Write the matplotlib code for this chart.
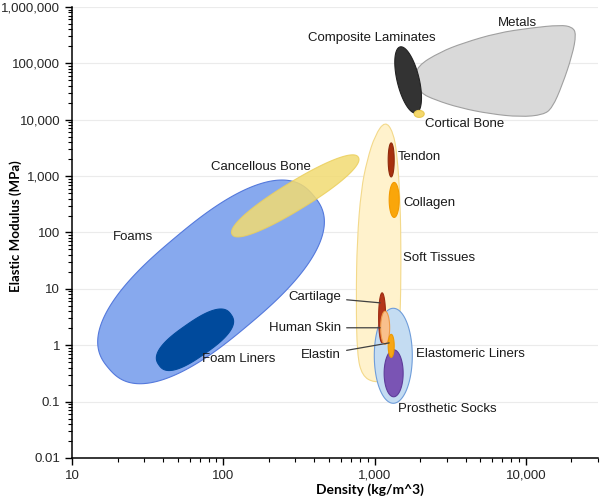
import numpy as np
import matplotlib
matplotlib.use("Agg")
import matplotlib.pyplot as plt
from matplotlib.patches import Polygon, PathPatch
from matplotlib.path import Path
from matplotlib.ticker import FixedLocator, FuncFormatter, NullFormatter

plt.rcParams['font.family'] = ['Liberation Sans', 'DejaVu Sans']

# ---- axis ticks
x_ticks = [10, 100, 1000, 10000]
y_ticks = [0.01, 0.1, 1, 10, 100, 1000, 10000, 100000, 1000000]

# ---- rounded regions: centre (density, modulus), half length / half width (px), tilt (deg), squareness
blob_names = ["Foams", "Foam Liners", "Cancellous Bone", "Composite Laminates", "Cortical Bone",
              "Tendon", "Collagen", "Elastomeric Liners", "Prosthetic Socks",
              "Cartilage", "Human Skin", "Elastin"]
blob_density = [83, 65, 299, 1667, 1972, 1288, 1348, 1330, 1337, 1122, 1175, 1288]
blob_modulus = [13.3, 1.25, 446, 50800, 12700, 1937, 378, 0.65, 0.318, 3.06, 2.04, 0.976]
blob_half_len = [134, 44, 74, 34, 5, 17, 17.5, 47.5, 23.5, 25, 16.5, 11.5]
blob_half_wid = [57, 17, 14, 11, 3.5, 3, 5, 19, 9.5, 3.5, 4.5, 3]
blob_tilt = [40, 35, 31.5, 103.6, 0, 90, 90, 90, 90, 90, 90, 90]
blob_square = [2.5, 2.6, 2.2, 2, 2, 2, 2, 2, 2, 2, 2, 2]

# ---- free-form regions (outline points)
metals_density = [1913, 2716, 3855, 6470, 10700, 16890, 20300, 21540, 20300, 17420,
                  14960, 13040, 9190, 5820, 3680, 2518, 2004, 1854]
metals_modulus = [89900, 159000, 230000, 346000, 424000, 480000, 442000, 332000, 141000, 41400,
                  16200, 12200, 11200, 12700, 16200, 22400, 29900, 50800]
soft_density = [1175, 1327, 1411, 1477, 1499, 1477, 1411, 1230, 994, 828,
                767, 755, 767, 815, 893, 1009]
soft_modulus = [9530, 6080, 2377, 378, 32.6, 2.82, 0.449, 0.244, 0.216, 0.287,
                0.676, 6.38, 74.0, 569, 1937, 5370]

# ---- labels
label_text = ["Metals", "Composite Laminates", "Cortical Bone", "Tendon", "Collagen", "Soft Tissues",
              "Elastomeric Liners", "Prosthetic Socks", "Cancellous Bone", "Foams", "Foam Liners"]
label_density = [8770, 964, 2163, 1432, 1546, 1546, 1884, 1432, 178, 25.3, 72.4]
label_modulus = [520000, 282000, 8440, 2188, 335, 35.5, 0.705, 0.0745, 1455, 83.6, 0.574]
label_align = ["center", "center", "left", "left", "left", "left", "left", "left", "center", "center", "left"]

callout_text = ["Cartilage", "Human Skin", "Elastin"]
callout_density = [601, 601, 601]
callout_modulus = [7.21, 2.04, 0.676]
callout_tip_density = [1089, 1089, 1249]
callout_tip_modulus = [5.65, 2.04, 1.10]

style = {
    "Foams": ("#87A9EE", "#5479DC", 1.0),
    "Foam Liners": ("#004A9C", "#004A9C", 1.0),
    "Cancellous Bone": ("#F2DB72", "#EBCF5C", 0.85),
    "Composite Laminates": ("#333333", "#222222", 1.0),
    "Cortical Bone": ("#F4D86C", "#E8C850", 1.0),
    "Tendon": ("#A8300E", "#8E2A0C", 1.0),
    "Collagen": ("#FAA60A", "#F39A00", 1.0),
    "Elastomeric Liners": ("#C4DCF2", "#6F9DDA", 1.0),
    "Prosthetic Socks": ("#7A54B4", "#5E3C9A", 1.0),
    "Cartilage": ("#B5361A", "#9C2C12", 1.0),
    "Human Skin": ("#F9C08C", "#EE9A48", 1.0),
    "Elastin": ("#F7A615", "#EE9A00", 1.0),
}
order = {"Foams": 2, "Foam Liners": 3, "Cancellous Bone": 4, "Composite Laminates": 7,
         "Cortical Bone": 7.5, "Tendon": 8, "Collagen": 8, "Elastomeric Liners": 9,
         "Prosthetic Socks": 10, "Cartilage": 11, "Human Skin": 12, "Elastin": 13}

fig = plt.figure(figsize=(6, 4.99), dpi=100)
ax = fig.add_axes([0.12, 0.0822, 0.8767, 0.9038])
ax.set_xscale('log')
ax.set_yscale('log')
ax.set_xlim(10, 30000)
ax.set_ylim(0.01, 1e6)


def blob(cx, cy, a, b, tilt, n):
    t = np.linspace(0, 2 * np.pi, 240)
    c, s = np.cos(t), np.sin(t)
    u = a * np.sign(c) * np.abs(c) ** (2 / n)
    v = b * np.sign(s) * np.abs(s) ** (2 / n)
    th = np.radians(tilt)
    x0, y0 = ax.transData.transform((cx, cy))
    px = x0 + u * np.cos(th) - v * np.sin(th)
    py = y0 + u * np.sin(th) + v * np.cos(th)
    return ax.transData.inverted().transform(np.column_stack([px, py]))


def smooth_outline(xs, ys):
    lp = np.log10(np.column_stack([xs, ys]))
    mids = (lp + np.roll(lp, -1, axis=0)) / 2
    verts = [mids[-1]]
    codes = [Path.MOVETO]
    for i in range(len(lp)):
        verts += [lp[i], mids[i]]
        codes += [Path.CURVE3, Path.CURVE3]
    return Path(10 ** np.array(verts), codes)


# free-form regions
ax.add_patch(PathPatch(smooth_outline(soft_density, soft_modulus), facecolor="#FFF2CC",
                       edgecolor="#F3D98A", lw=0.8, zorder=5))
ax.add_patch(PathPatch(smooth_outline(metals_density, metals_modulus), facecolor="#D9D9D9",
                       edgecolor="#A0A0A0", lw=0.8, zorder=6))

for name, d, m, a, b, tl, n in zip(blob_names, blob_density, blob_modulus, blob_half_len,
                                   blob_half_wid, blob_tilt, blob_square):
    fc, ec, al = style[name]
    ax.add_patch(Polygon(blob(d, m, a, b, tl, n), closed=True, facecolor=fc, edgecolor=ec,
                         lw=0.8, alpha=al, zorder=order[name]))

for txt, d, m, ha in zip(label_text, label_density, label_modulus, label_align):
    ax.text(d, m, txt, ha=ha, va="center", fontsize=9.5, color="#1A1A1A", zorder=20)

for txt, d, m, td, tm in zip(callout_text, callout_density, callout_modulus,
                             callout_tip_density, callout_tip_modulus):
    ax.annotate(txt, xy=(td, tm), xytext=(d, m), ha="right", va="center", fontsize=9.5,
                color="#1A1A1A", zorder=20,
                arrowprops=dict(arrowstyle="-", color="#404040", lw=0.9, shrinkA=2, shrinkB=0))

# axes styling
fmt = FuncFormatter(lambda v, p: f"{v:,.0f}" if v >= 1 else f"{v:g}")
for axis, major, (lo, hi) in ((ax.xaxis, x_ticks, ax.get_xlim()), (ax.yaxis, y_ticks, ax.get_ylim())):
    minor = [k * t for t in major for k in range(2, 10) if lo <= k * t <= hi]
    axis.set_major_locator(FixedLocator(major))
    axis.set_minor_locator(FixedLocator(minor))
    axis.set_major_formatter(fmt)
    axis.set_minor_formatter(NullFormatter())
ax.tick_params(which="major", length=5, width=1, labelsize=9.5, labelcolor="#262626")
ax.tick_params(which="minor", length=3, width=0.8)
ax.spines["top"].set_visible(False)
ax.spines["right"].set_visible(False)
ax.spines["left"].set_linewidth(1.1)
ax.spines["bottom"].set_linewidth(1.1)
ax.yaxis.grid(True, which="major", color="#EBEBEB", lw=0.8)
ax.set_axisbelow(True)

ax.set_xlabel("Density (kg/m^3)", fontsize=10, fontweight="bold", family=["Lato", "DejaVu Sans"])
ax.set_ylabel("Elastic Modulus (MPa)", fontsize=9.5, fontweight="bold", family=["Lato", "DejaVu Sans"])
ax.xaxis.label.set_va("center")
ax.yaxis.label.set_va("center")
ax.xaxis.set_label_coords(0.566, -0.071)
ax.yaxis.set_label_coords(-0.108, 0.515)

fig.savefig("out.png", dpi=100)
